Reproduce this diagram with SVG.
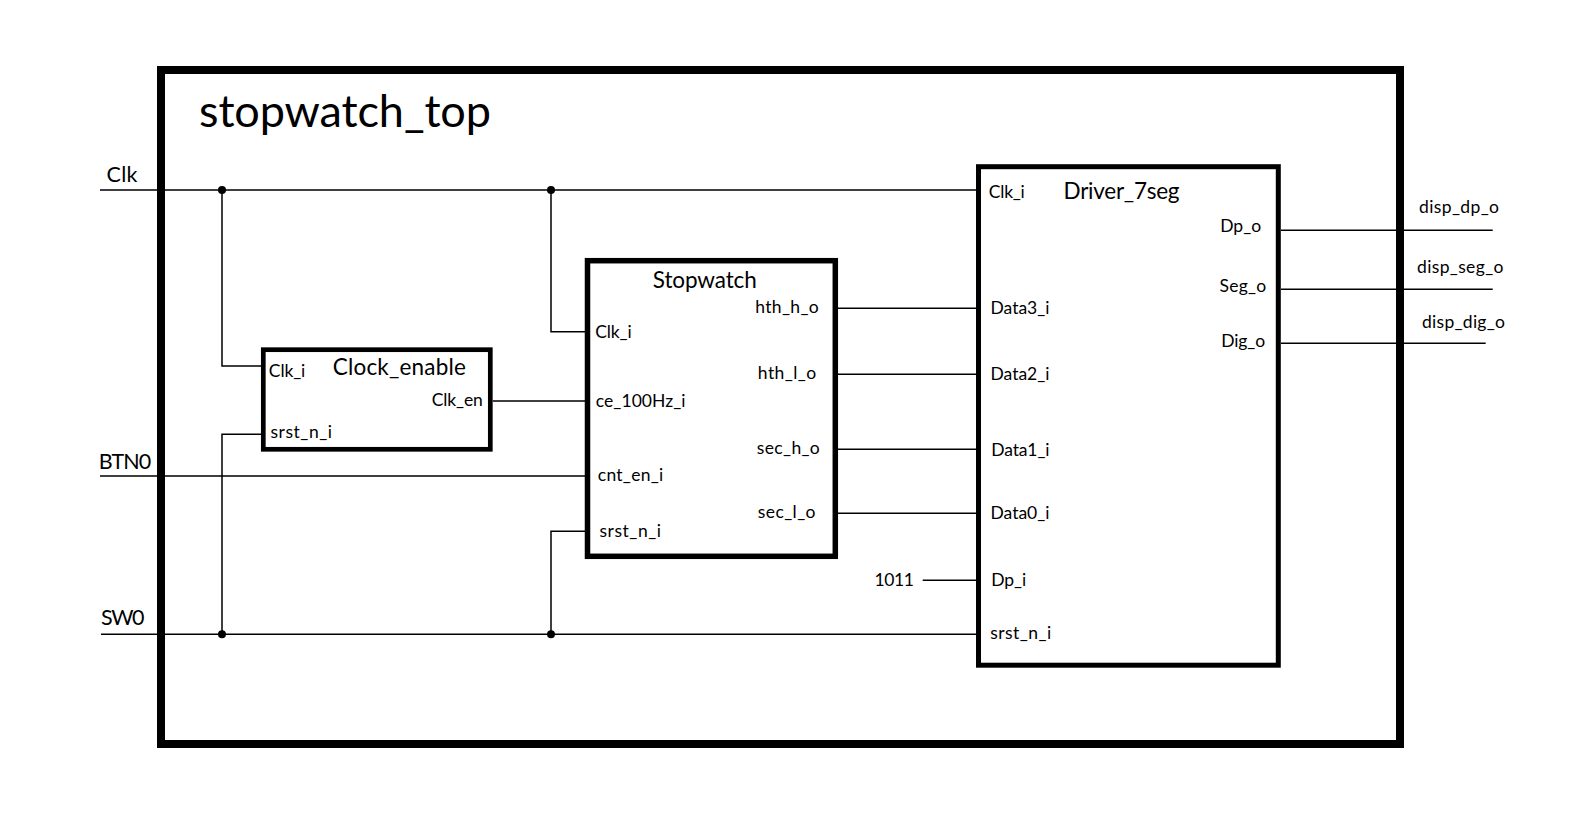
<svg xmlns="http://www.w3.org/2000/svg" width="1582" height="830" viewBox="0 0 1582 830">
<style>
text{font-family:Lato,"Open Sans","Liberation Sans",sans-serif;fill:#000}
.t{font-size:45px}
.bt{font-size:22.5px}
.p{font-size:17.5px}
.ext{font-size:21.5px}
.w{stroke:#000;stroke-width:1.5;fill:none}
.box{fill:none;stroke:#000}
</style>
<rect width="1582" height="830" fill="#fff"/>
<g id="stopwatch_top">
<rect class="box" x="161" y="70" width="1239" height="674" stroke-width="8"/>
<text class="t" x="199" y="127" textLength="292">stopwatch_top</text>
</g>
<g id="connectors">
<path class="w" d="M100,190H976 M222,190V366H261 M551,190V331.7H585 M492.7,401H585 M100,476H585 M101,634.3H976 M222,634.3V434.3H261 M551,634.3V531.3H585 M837.7,308.3H976 M837.7,374.3H976 M837.7,449.3H976 M837.7,513.3H976 M922.7,580.3H976 M1281,230.3H1492.7 M1281,289.3H1492.7 M1281,343.3H1485.7"/>
<circle cx="222" cy="190" r="4"/>
<circle cx="551" cy="190" r="4"/>
<circle cx="222" cy="634.3" r="4"/>
<circle cx="551" cy="634.3" r="4"/>
</g>
<g id="labels">
<text class="ext" x="106.5" y="181.7" textLength="31">Clk</text>
<text class="ext" x="98.8" y="469.3" textLength="52.5">BTN0</text>
<text class="ext" x="101" y="625" textLength="43.5">SW0</text>
<text class="p" x="874.5" y="586" textLength="39.5">1011</text>
<text class="p" x="1419" y="213.3" textLength="80">disp_dp_o</text>
<text class="p" x="1417" y="273.3" textLength="86.5">disp_seg_o</text>
<text class="p" x="1422" y="327.7" textLength="83">disp_dig_o</text>
</g>
<g id="clock_enable">
<rect class="box" x="263.3" y="349.7" width="227" height="99.6" stroke-width="4.7"/>
<text class="bt" x="332.8" y="375" textLength="133">Clock_enable</text>
<text class="p" x="268.8" y="376.7" textLength="36.5">Clk_i</text>
<text class="p" x="431.8" y="406" textLength="51">Clk_en</text>
<text class="p" x="270.5" y="438" textLength="61.5">srst_n_i</text>
</g>
<g id="stopwatch">
<rect class="box" x="587.5" y="260.7" width="247.8" height="295.6" stroke-width="5.5"/>
<text class="bt" x="652.8" y="288.3" textLength="104">Stopwatch</text>
<text class="p" x="595.2" y="337.7" textLength="36.5">Clk_i</text>
<text class="p" x="595.8" y="406.7" textLength="89.7">ce_100Hz_i</text>
<text class="p" x="597.8" y="481" textLength="65.4">cnt_en_i</text>
<text class="p" x="599.5" y="536.7" textLength="61.5">srst_n_i</text>
<text class="p" x="755.2" y="312.7" textLength="63.6">hth_h_o</text>
<text class="p" x="757.8" y="379" textLength="58.4">hth_l_o</text>
<text class="p" x="756.8" y="454" textLength="63">sec_h_o</text>
<text class="p" x="757.8" y="517.7" textLength="57.7">sec_l_o</text>
</g>
<g id="driver_7seg">
<rect class="box" x="978.5" y="166.7" width="299.8" height="498.5" stroke-width="5"/>
<text class="bt" x="1063.5" y="199.3" textLength="116">Driver_7seg</text>
<text class="p" x="988.8" y="198.3" textLength="36">Clk_i</text>
<text class="p" x="990.5" y="314" textLength="59">Data3_i</text>
<text class="p" x="990.5" y="380" textLength="59">Data2_i</text>
<text class="p" x="991.2" y="456" textLength="58.3">Data1_i</text>
<text class="p" x="990.5" y="519" textLength="59">Data0_i</text>
<text class="p" x="991.2" y="585.7" textLength="35">Dp_i</text>
<text class="p" x="990.2" y="639" textLength="61">srst_n_i</text>
<text class="p" x="1220.2" y="231.7" textLength="41">Dp_o</text>
<text class="p" x="1219.5" y="292.3" textLength="46.7">Seg_o</text>
<text class="p" x="1221.2" y="347.3" textLength="44">Dig_o</text>
</g>
</svg>
